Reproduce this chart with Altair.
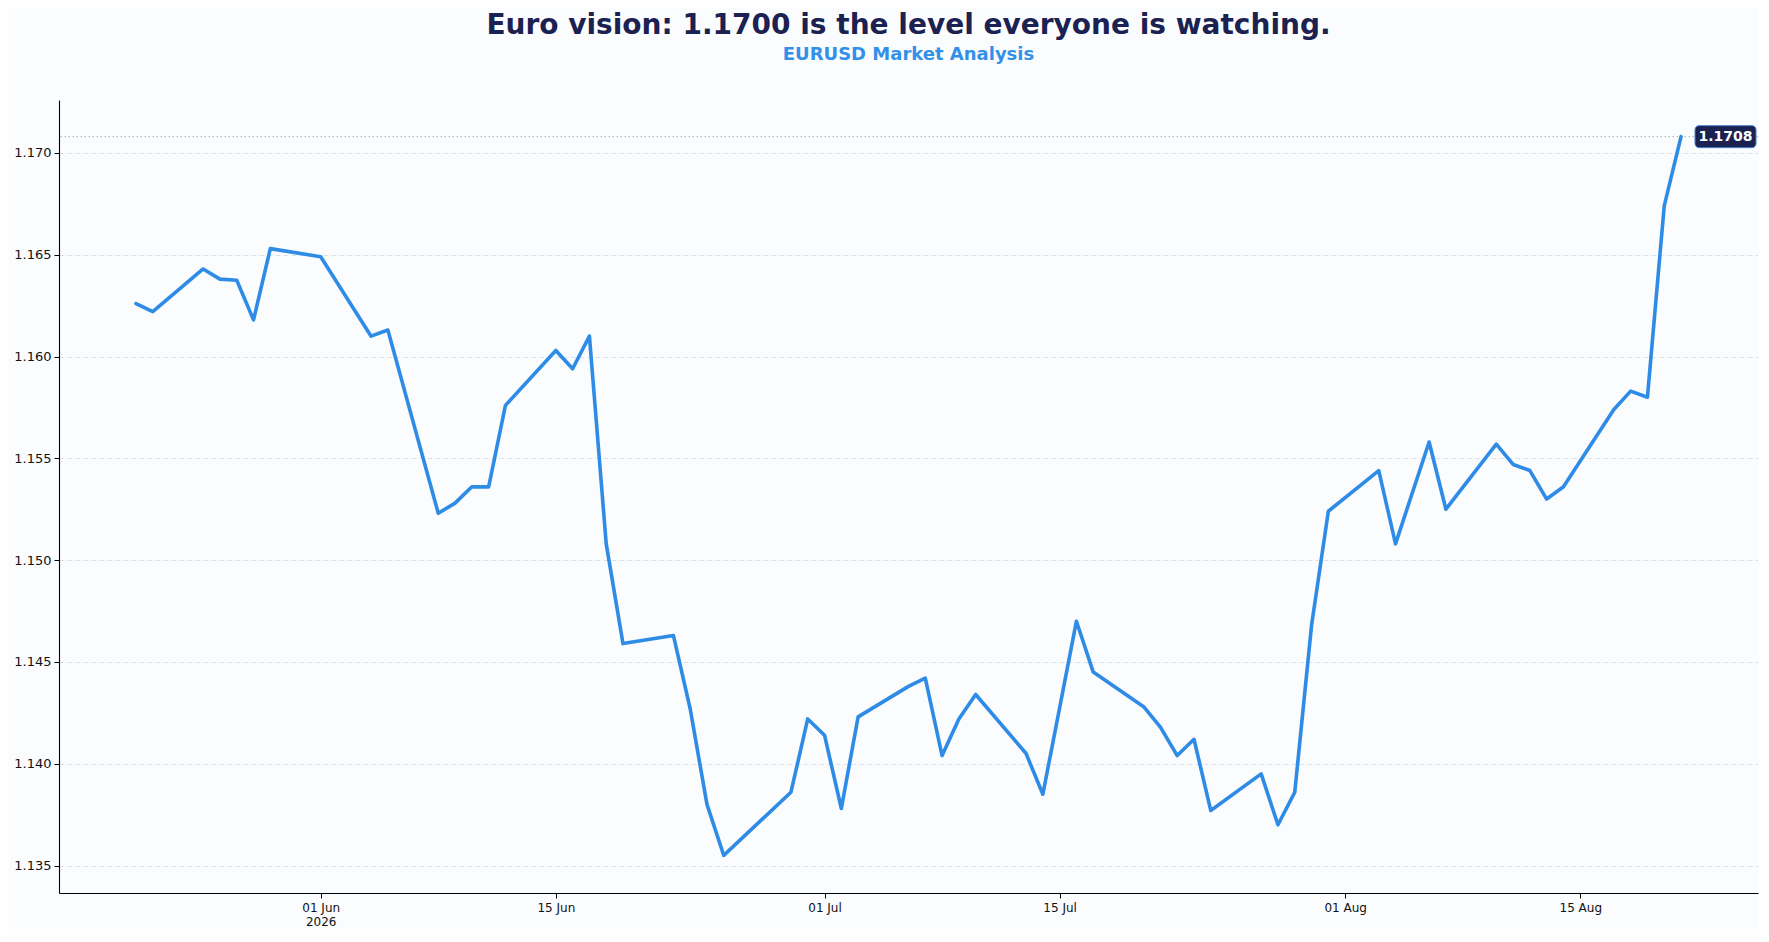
import altair as alt
import pandas as pd

dates = [
    "2026-05-21", "2026-05-22", "2026-05-25", "2026-05-26", "2026-05-27", "2026-05-28", "2026-05-29",
    "2026-06-01", "2026-06-04", "2026-06-05", "2026-06-08", "2026-06-09", "2026-06-10", "2026-06-11",
    "2026-06-12", "2026-06-15", "2026-06-16", "2026-06-17", "2026-06-18", "2026-06-19", "2026-06-22",
    "2026-06-23", "2026-06-24", "2026-06-25", "2026-06-29", "2026-06-30", "2026-07-01", "2026-07-02",
    "2026-07-03", "2026-07-06", "2026-07-07", "2026-07-08", "2026-07-09", "2026-07-10", "2026-07-13",
    "2026-07-14", "2026-07-16", "2026-07-17", "2026-07-20", "2026-07-21", "2026-07-22", "2026-07-23",
    "2026-07-24", "2026-07-27", "2026-07-28", "2026-07-29", "2026-07-30", "2026-07-31", "2026-08-03",
    "2026-08-04", "2026-08-06", "2026-08-07", "2026-08-10", "2026-08-11", "2026-08-12", "2026-08-13",
    "2026-08-14", "2026-08-17", "2026-08-18", "2026-08-19", "2026-08-20", "2026-08-21",
]
values = [
    1.1626, 1.1622, 1.1643, 1.1638, 1.16375, 1.1618, 1.1653,
    1.1649, 1.1610, 1.1613, 1.1523, 1.1528, 1.1536, 1.1536,
    1.1576, 1.1603, 1.1594, 1.1610, 1.1508, 1.1459, 1.1463,
    1.1427, 1.1380, 1.1355, 1.1386, 1.1422, 1.1414, 1.1378,
    1.1423, 1.1438, 1.1442, 1.1404, 1.1422, 1.1434, 1.1405,
    1.1385, 1.1470, 1.1445, 1.1428, 1.1418, 1.1404, 1.1412,
    1.1377, 1.1395, 1.1370, 1.1386, 1.1468, 1.1524, 1.1544,
    1.1508, 1.1558, 1.1525, 1.1557, 1.1547, 1.1544, 1.1530,
    1.1536, 1.1574, 1.1583, 1.1580, 1.1674, 1.1708,
]
y_ticks = [1.135, 1.140, 1.145, 1.150, 1.155, 1.160, 1.165, 1.170]
x_tick_dates = [(6, 1), (6, 15), (7, 1), (7, 15), (8, 1), (8, 15)]

TITLE = "Euro vision: 1.1700 is the level everyone is watching."
SUBTITLE = "EURUSD Market Analysis"

df = pd.DataFrame({"date": dates, "value": values})
last = df.iloc[[-1]].reset_index(drop=True)

FONT = "DejaVu Sans"
LINE_COLOR = "#2e8be6"
NAVY = "#1b2150"

x_values = [alt.DateTime(year=2026, month=m, date=d, utc=True) for m, d in x_tick_dates]
x_scale = alt.Scale(
    type="utc",
    domain=[
        alt.DateTime(year=2026, month=5, date=16, hours=10, utc=True),
        alt.DateTime(year=2026, month=8, date=25, hours=14, utc=True),
    ],
)
y_scale = alt.Scale(domain=[1.13365, 1.1726], nice=False, zero=False)

x_enc = alt.X(
    "date:T",
    scale=x_scale,
    title=None,
    axis=alt.Axis(
        values=x_values,
        labelExpr="utcFormat(datum.value, '%m-%d') == '06-01' ? [utcFormat(datum.value, '%d %b'), '2026'] : utcFormat(datum.value, '%d %b')",
        grid=False,
        labelFont=FONT,
        labelFontSize=12,
        labelColor="#111111",
        labelPadding=4,
        tickSize=5,
        tickColor="#000000",
        domainColor="#000000",
        domainWidth=1.1,
        labelAngle=0,
    ),
)
y_enc = alt.Y(
    "value:Q",
    scale=y_scale,
    title=None,
    axis=alt.Axis(
        values=y_ticks,
        format=".3f",
        grid=True,
        gridDash=[5, 3],
        gridColor="#d3dbe5",
        gridWidth=0.8,
        labelFont=FONT,
        labelFontSize=13,
        labelColor="#111111",
        labelPadding=3,
        tickSize=5,
        tickColor="#000000",
        domainColor="#000000",
        domainWidth=1.1,
    ),
)

ref_rule = alt.Chart(last).mark_rule(
    color="#a9b0ba", strokeDash=[1.5, 2.5], strokeWidth=1
).encode(y=alt.Y("value:Q", scale=y_scale))

line = alt.Chart(df).mark_line(
    color=LINE_COLOR, strokeWidth=3.6, strokeJoin="round", strokeCap="round"
).encode(x=x_enc, y=y_enc)

box = alt.Chart(last).mark_rect(
    color=NAVY, stroke="#4a7fd0", strokeWidth=1, cornerRadius=4,
    xOffset=14, x2Offset=75, yOffset=-11, y2Offset=11,
).encode(
    x=alt.X("date:T", scale=x_scale),
    x2="date:T",
    y=alt.Y("value:Q", scale=y_scale),
    y2="value:Q",
)

label = alt.Chart(last).mark_text(
    color="white", font=FONT, fontSize=14, fontWeight="bold",
    align="center", baseline="middle", dx=44.5, dy=0.5,
).encode(
    x=alt.X("date:T", scale=x_scale),
    y=alt.Y("value:Q", scale=y_scale),
    text=alt.Text("value:Q", format=".4f"),
)

chart = alt.layer(ref_rule, line, box, label).properties(
    width=1699,
    height=793,
    padding={"left": 5, "top": 4, "right": 0, "bottom": 2},
    title=alt.TitleParams(
        text=TITLE,
        subtitle=SUBTITLE,
        font=FONT,
        fontSize=28,
        fontWeight="bold",
        color=NAVY,
        subtitleFont=FONT,
        subtitleFontSize=18,
        subtitleFontWeight="bold",
        subtitleColor="#3390e8",
        subtitlePadding=6,
        anchor="middle",
        offset=36,
    ),
).configure(
    background="#fafcfe",
).configure_view(
    stroke=None,
)

chart.save("out.html", embed_options={"renderer": "svg", "actions": False})
